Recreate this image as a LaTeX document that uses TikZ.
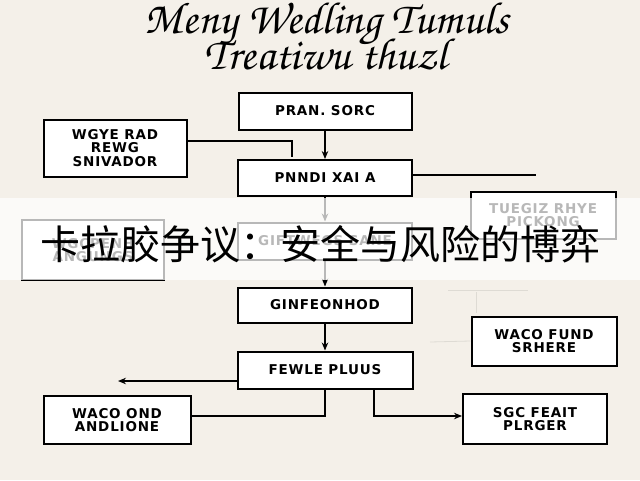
\documentclass[tikz,border=0pt]{standalone}
\usepackage[T1]{fontenc}
\usepackage{fontspec}
\usepackage{tikz}
\usetikzlibrary{arrows.meta}
\setsansfont{DejaVu Sans}[LetterSpace=6]
\newfontfamily\cjkfont{Noto Sans CJK SC}
\definecolor{paperCream}{RGB}{244,240,233}
\definecolor{ghostGray}{RGB}{222,219,212}

\begin{document}
\begin{tikzpicture}[x=1pt, y=-1pt,
    box/.style={draw, line width=2pt, fill=white, inner sep=0pt, align=center,
      font=\sffamily\bfseries\fontsize{13.5}{13.5}\selectfont},
    titletext/.style={anchor=base, inner sep=0pt,
      font=\fontencoding{T1}\fontfamily{pzc}\fontseries{mb}\fontshape{it}\fontsize{45}{45}\selectfont},
    link/.style={line width=1.2pt},
    arr/.style={link, -{Stealth[length=8pt, width=6.5pt]}}]
  \fill[paperCream] (0,0) rectangle (640,480);

  % title
  \node[titletext] (title) at (327,33) {Meny Wedling Tumuls};
  \node[titletext] (subtitle) at (326,69) {Treatiwu thuzl};

  % boxes
  \node[box, minimum width=173pt, minimum height=37pt] (pran) at (325,111) {PRAN. SORC};
  \node[box, minimum width=143pt, minimum height=57pt] (wgye) at (115,148) {WGYE RAD\\REWG\\SNIVADOR};
  \node[box, minimum width=174pt, minimum height=36pt] (pnndi) at (325,178) {PNNDI XAI A};
  \node[box, minimum width=145pt, minimum height=47pt] (tuegiz) at (543,215) {TUEGIZ RHYE\\PICKONG};
  \node[box, minimum width=174pt, minimum height=37pt] (giftwegs) at (325,241) {GIFTWEGS SANE};
  \node[box, minimum width=142pt, minimum height=60pt] (wgcpenh) at (93,250) {WGCPENH\\ANGUNGS};
  \node[box, minimum width=174pt, minimum height=35pt] (ginfeon) at (325,305) {GINFEONHOD};
  \node[box, minimum width=145pt, minimum height=49pt] (wacofund) at (544,341) {WACO FUND\\SRHERE};
  \node[box, minimum width=175pt, minimum height=37pt] (fewle) at (325,370) {FEWLE PLUUS};
  \node[box, minimum width=147pt, minimum height=48pt] (wacoond) at (117,420) {WACO OND\\ANDLIONE};
  \node[box, minimum width=144pt, minimum height=50pt] (sgc) at (535,419) {SGC FEAIT\\PLRGER};

  % connectors
  \coordinate (wgyeIn) at (292,157);
  \coordinate (pnndiEnd) at (536,175);
  \coordinate (leftTip) at (118,381);
  \draw[arr] (pran) -- (pnndi);
  \draw[link] (wgye.east |- 0,141) -| (wgyeIn);
  \draw[link] (pnndi.east |- pnndiEnd) -- (pnndiEnd);
  \draw[arr] (pnndi) -- (giftwegs);
  \draw[arr] (giftwegs) -- (ginfeon);
  \draw[arr] (ginfeon) -- (fewle);
  \draw[arr] (fewle.west |- leftTip) -- (leftTip);
  \draw[link] (wacoond.east |- 0,416) -| (fewle.south);
  \draw[arr] (fewle.south -| 374,0) |- (sgc.west |- 0,416);
  \draw[ghostGray, line width=0.8pt] (448,290) -- (528,290) (476,292) -- (476,313);
  \draw[ghostGray, line width=0.8pt] (430,342) -- (wacofund.west);

  % caption band
  \fill[white, opacity=0.72] (0,198) rectangle (640,280);
  \node[font=\cjkfont\fontsize{40}{40}\selectfont] (caption) at (320,244) {卡拉胶争议：安全与风险的博弈};
\end{tikzpicture}
\end{document}
